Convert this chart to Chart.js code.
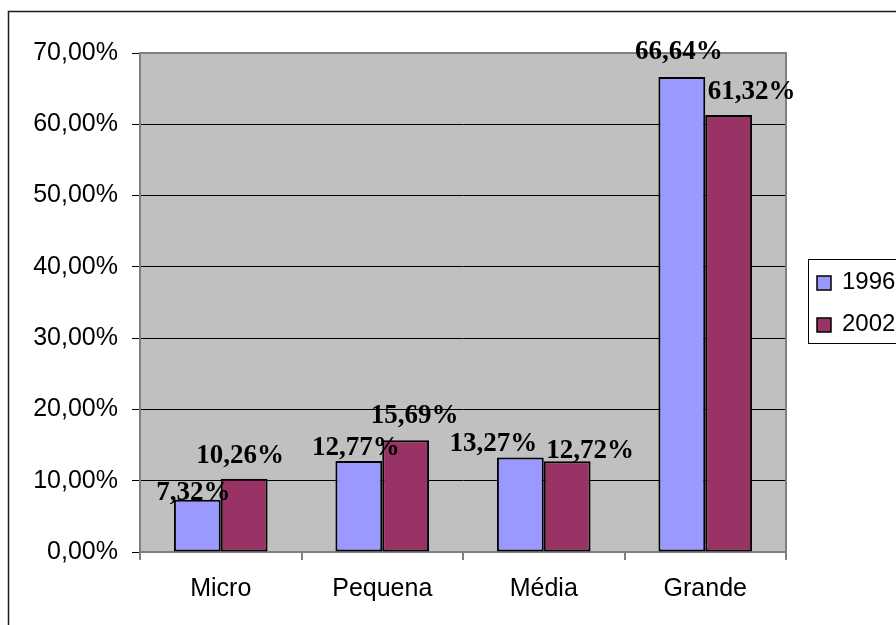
<!DOCTYPE html>
<html>
<head>
<meta charset="utf-8">
<script src="https://cdn.jsdelivr.net/npm/chart.js@4/dist/chart.umd.min.js"></script>
<style>
  html, body { margin: 0; padding: 0; background: #fff; }
  #wrap { width: 896px; height: 625px; }
</style>
</head>
<body>
<div id="wrap"><canvas id="myChart" width="896" height="625"></canvas></div>
<script>
// porte das empresas, 1996 x 2002
const categorias = ["Micro", "Pequena", "Média", "Grande"];
const anos = ["1996", "2002"];
const valores1996 = [0.0732, 0.1277, 0.1327, 0.6664];
const valores2002 = [0.1026, 0.1569, 0.1272, 0.6132];
const ticksY = [0, 0.1, 0.2, 0.3, 0.4, 0.5, 0.6, 0.7];

// little nudges for the value labels [dx, dy from bar top]
const labelShift = [
  [[-4, 0], [-3, -6], [-27, -6], [-3, -18]],
  [[-4, -16], [9, -17], [23, -3], [23, -16]]
];

const fmtPct = (v) => (v * 100).toFixed(2).replace(".", ",") + "%";

const sansFont = "'Liberation Sans', Arial, sans-serif";

// gray plot area + frame
const plotArea = {
  id: "plotArea",
  beforeDraw(chart) {
    const { ctx, chartArea: a } = chart;
    ctx.save();
    ctx.fillStyle = "#C0C0C0";
    ctx.fillRect(a.left, a.top, a.right - a.left, a.bottom - a.top);
    ctx.restore();
  },
  beforeDatasetsDraw(chart) {
    const { ctx, chartArea: a } = chart;
    ctx.save();
    ctx.strokeStyle = "#808080";
    ctx.lineWidth = 2;
    ctx.strokeRect(a.left, a.top, a.right - a.left, a.bottom - a.top);
    ctx.restore();
  }
};

// value labels over each bar
const valueLabels = {
  id: "valueLabels",
  afterDatasetsDraw(chart) {
    const ctx = chart.ctx;
    ctx.save();
    ctx.font = "bold 27px 'Liberation Serif', 'Times New Roman', serif";
    ctx.fillStyle = "#000";
    ctx.textAlign = "center";
    ctx.textBaseline = "alphabetic";
    chart.data.datasets.forEach((ds, i) => {
      chart.getDatasetMeta(i).data.forEach((bar, j) => {
        const s = labelShift[i][j];
        ctx.fillText(fmtPct(ds.data[j]), bar.x + s[0], bar.y + s[1]);
      });
    });
    ctx.restore();
  }
};

// outer frame and boxed legend on the right
const frameLegend = {
  id: "frameLegend",
  afterDraw(chart) {
    const ctx = chart.ctx;
    ctx.save();
    ctx.strokeStyle = "#1a1a1a";
    ctx.lineWidth = 1.5;
    ctx.strokeRect(8.5, 11.5, 1000, 700);

    ctx.lineWidth = 1;
    ctx.strokeStyle = "#000";
    ctx.strokeRect(808.5, 259.5, 200, 84);
    ctx.font = "24px " + sansFont;
    ctx.textBaseline = "middle";
    ctx.textAlign = "left";
    chart.data.datasets.forEach((ds, i) => {
      const y = 276 + i * 42;
      ctx.fillStyle = ds.backgroundColor;
      ctx.fillRect(817, y, 14, 14);
      ctx.lineWidth = 1.5;
      ctx.strokeRect(817, y, 14, 14);
      ctx.fillStyle = "#000";
      ctx.fillText(ds.label, 842, y + 6);
    });
    ctx.restore();
  }
};

const ctx = document.getElementById("myChart");
const chart = new Chart(ctx, {
  type: "bar",
  data: {
    labels: categorias,
    datasets: [
      {
        label: anos[0],
        data: valores1996,
        backgroundColor: "#9999FF",
        borderColor: "#000",
        borderWidth: 2,
        borderSkipped: false
      },
      {
        label: anos[1],
        data: valores2002,
        backgroundColor: "#993366",
        borderColor: "#000",
        borderWidth: 2,
        borderSkipped: false
      }
    ]
  },
  options: {
    responsive: false,
    animation: false,
    layout: { padding: { top: 53, right: 110, bottom: 0, left: 0 } },
    datasets: {
      bar: { categoryPercentage: 0.58, barPercentage: 1 }
    },
    plugins: {
      legend: { display: false },
      tooltip: { enabled: false }
    },
    scales: {
      x: {
        offset: true,
        afterFit: (s) => { s.height = 73; },
        grid: {
          offset: true,
          drawOnChartArea: false,
          drawTicks: true,
          tickLength: 8,
          color: "#808080",
          lineWidth: 2
        },
        border: { color: "#808080", width: 2 },
        ticks: {
          color: "#000",
          font: { family: sansFont, size: 25 },
          padding: 14
        }
      },
      y: {
        min: 0,
        max: 0.7,
        afterFit: (s) => { s.width = 140; },
        afterBuildTicks: (s) => { s.ticks = ticksY.map((v) => ({ value: v })); },
        grid: {
          color: (c) => (c.tick && (c.tick.value === 0 || c.tick.value === 0.7) ? "#808080" : "#000"),
          tickColor: "#000",
          tickLength: 8,
          lineWidth: 1
        },
        border: { color: "#808080", width: 2 },
        ticks: {
          color: "#000",
          font: { family: sansFont, size: 25 },
          padding: 14,
          callback: (v) => fmtPct(v)
        }
      }
    }
  },
  plugins: [plotArea, valueLabels, frameLegend]
});
</script>
</body>
</html>
